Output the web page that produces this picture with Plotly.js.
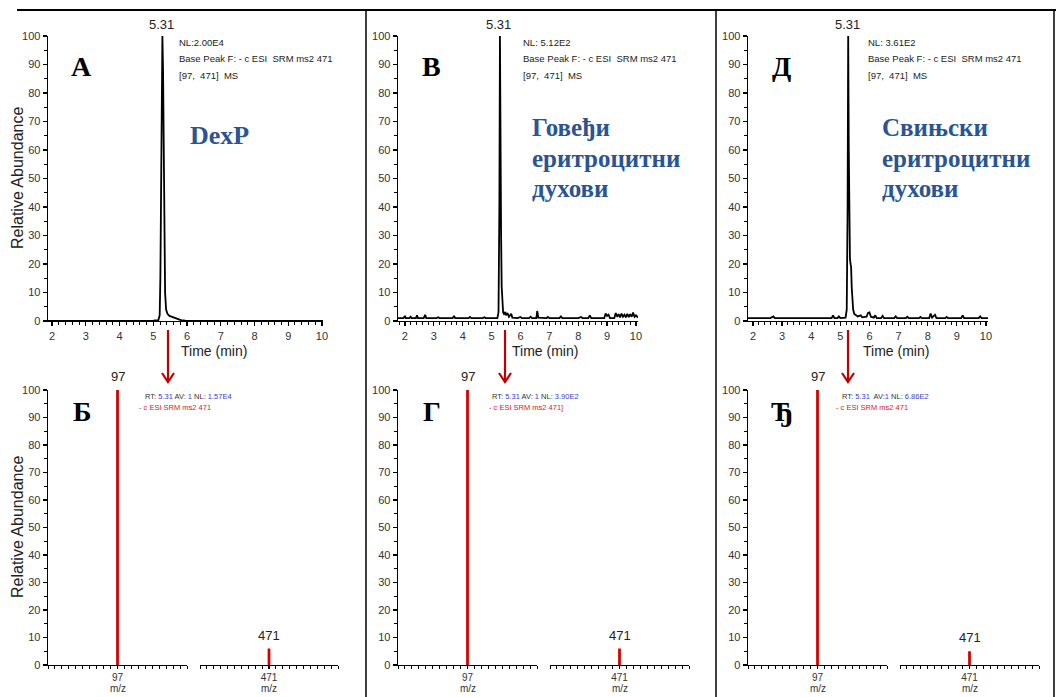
<!DOCTYPE html>
<html><head><meta charset="utf-8">
<script src="https://cdn.plot.ly/plotly-3.0.1.min.js"></script>
<style>html,body{margin:0;padding:0;background:#fff}#chart{width:1056px;height:697px}</style>
</head><body><div id="chart"></div>
<script>
// ---------- DATA ----------
// Chromatogram A (DexP)
const timeA = [1.88, 2.5, 3.5, 4.5, 5.0, 5.15, 5.19, 5.21, 5.23, 5.25, 5.27, 5.29, 5.31, 5.33, 5.35, 5.38, 5.42, 5.48, 5.56, 5.63, 5.72, 5.82, 5.95, 7.0, 8.0, 9.0, 10.03];
const absA  = [0, 0, 0, 0, 0.1, 0.3, 2, 15, 45, 85, 100, 88, 55, 25, 10, 4, 2.5, 1.8, 1.4, 1.0, 0.6, 0.3, 0.1, 0, 0, 0, 0];
// Chromatogram В (bovine erythrocyte ghosts)
const timeB = [1.76,1.95,2.0,2.03,2.15,2.2,2.23,2.38,2.42,2.45,2.65,2.7,2.74,3.1,3.15,3.2,3.65,3.7,3.74,4.2,4.25,4.3,4.7,4.75,4.8,5.2,5.24,5.27,5.29,5.31,5.33,5.35,5.38,5.4,5.43,5.47,5.5,5.55,5.6,5.68,5.72,5.9,6.0,6.05,6.3,6.35,6.4,6.55,6.58,6.62,6.9,6.95,7.0,7.35,7.4,7.45,8.0,8.1,8.15,8.35,8.4,8.45,8.9,8.95,9.0,9.05,9.1,9.25,9.3,9.35,9.4,9.45,9.5,9.55,9.6,9.65,9.7,9.75,9.8,9.85,9.9,9.95,10.0,10.07];
const absB  = [1.0,1.0,1.8,1.0,1.0,1.5,1.0,1.0,2.0,1.0,1.0,2.2,1.0,1.0,1.3,1.0,1.0,1.8,1.0,1.0,1.4,1.0,1.0,1.3,1.0,1.0,3,40,100,40,30,12,4,3,2.5,3.2,2,2.8,1.5,2.5,1.2,1.0,1.4,1.0,1.0,1.5,1.0,1.0,3.5,1.2,1.0,1.4,1.0,1.0,1.6,1.0,1.0,1.4,1.0,1.0,2.0,1.0,1.0,2.6,1.8,2.2,1.0,1.0,2.8,1.5,2.4,1.3,2.6,1.5,2.2,1.3,2.5,1.4,2.4,1.5,3.0,1.5,2.0,1.2];
// Chromatogram Д (porcine erythrocyte ghosts)
const timeD = [1.83,2.6,2.7,2.75,4.7,4.75,4.8,4.9,4.95,5.0,5.18,5.22,5.25,5.27,5.29,5.31,5.33,5.35,5.37,5.39,5.41,5.44,5.48,5.55,5.6,5.7,5.75,5.9,5.95,6.0,6.05,6.15,6.2,6.25,6.4,6.45,6.5,6.85,6.9,6.95,7.25,7.3,7.35,7.7,7.75,7.8,8.05,8.1,8.15,8.25,8.3,8.6,8.65,8.7,9.15,9.2,9.25,9.75,9.8,9.85,10.07];
const absD  = [1.0,1.0,1.6,1.0,1.0,2.0,1.0,1.0,1.6,1.0,1.2,4,40,100,60,28,22,20,19,12,8,4,2.5,2,1.6,2,1.3,1.5,2.8,3.0,1.5,1.2,2.0,1.0,1.0,1.8,1.0,1.0,1.6,1.0,1.0,1.5,1.0,1.0,1.4,1.0,1.0,2.6,1.2,2.2,1.0,1.0,1.4,1.0,1.0,2.0,1.0,1.0,1.6,1.0,1.0];
const peakLabel = "5.31";
// Mass spectra (m/z 97 and 471)
const mz = [97, 471];
const specB = [100, 6];     // Б
const specG = [100, 6];     // Г
const specDj = [100, 5];    // Ђ
const nlTop = ["NL:2.00E4", "NL: 5.12E2", "NL: 3.61E2"];
const nlSpec = ["1.57E4", "3.90E2", "6.86E2"];
const filterLine = ["- c ESI SRM ms2 471", "- c ESI SRM ms2 471]", "- c ESI SRM ms2 471"];
const avSpec = [" AV: ", " AV: ", "  AV:"];
const topLetters = ["А", "В", "Д"];
const botLetters = ["Б", "Г", "Ђ"];
const sampleNames = [["DexP"], ["Говеђи", "еритроцитни", "духови"], ["Свињски", "еритроцитни", "духови"]];

// ---------- LAYOUT HELPERS ----------
const W = 1056, H = 697;
const fx = x => x / W, fy = y => 1 - y / H;
const TF = {family: "Liberation Sans, Arial, sans-serif", size: 11, color: "#333"};
const topPanels = [
  {dom: [48, 323], range: [1.88, 10.03], t: timeA, a: absA, arrow: 168, info: 177, timeC: 214},
  {dom: [398, 638], range: [1.76, 10.07], t: timeB, a: absB, arrow: 505, info: 521, timeC: 545},
  {dom: [748, 988], range: [1.83, 10.07], t: timeD, a: absD, arrow: 848, info: 866, timeC: 896}
];
const botPanels = [
  {seg1: [48, 187], seg2: [200, 338], s: specB, info1: 143, info2: 137},
  {seg1: [398, 537], seg2: [550, 689], s: specG, info1: 490, info2: 487},
  {seg1: [748, 887], seg2: [900, 1039], s: specDj, info1: 840, info2: 834}
];
const topY = [36, 321], botY = [390, 665];

const layout = {
  width: W, height: H, margin: {l: 0, r: 0, t: 0, b: 0},
  paper_bgcolor: "#fff", plot_bgcolor: "rgba(0,0,0,0)",
  showlegend: false, annotations: [], shapes: [],
  font: {family: "Liberation Sans, Arial, sans-serif", color: "#333"}
};
const data = [];
const axBase = {showgrid: false, zeroline: false, showline: true, linecolor: "#000", linewidth: 1.4,
  ticks: "outside", tickcolor: "#000", tickwidth: 1.2, tickfont: TF, fixedrange: true};

function yAx(domPy, anchor, visible) {
  return Object.assign({}, axBase, {domain: [fy(domPy[1]), fy(domPy[0])], range: [0, 100], anchor: anchor,
    tickmode: "linear", tick0: 0, dtick: 10, ticklen: 4,
    minor: {tickmode: "linear", tick0: 0, dtick: 5, ticks: "outside", ticklen: 3, tickcolor: "#000", tickwidth: 1},
    visible: visible});
}

let n = 1;
topPanels.forEach((p, i) => {
  const k = n++;
  const xs = k === 1 ? "x" : "x" + k, ys = k === 1 ? "y" : "y" + k;
  layout["xaxis" + (k === 1 ? "" : k)] = Object.assign({}, axBase, {domain: [fx(p.dom[0]), fx(p.dom[1])],
    range: p.range, anchor: ys, tickmode: "linear", tick0: 0, dtick: 1, ticklen: 4,
    minor: {tickmode: "linear", tick0: 0, dtick: 0.2, ticks: "outside", ticklen: 3, tickcolor: "#000", tickwidth: 1}});
  layout["yaxis" + (k === 1 ? "" : k)] = yAx(topY, xs, true);
  data.push({type: "scatter", mode: "lines", x: p.t, y: p.a, xaxis: xs, yaxis: ys,
    line: {color: "#000", width: 1.8}, hoverinfo: "skip"});
  // peak label
  const im = p.a.indexOf(Math.max(...p.a));
  layout.annotations.push({xref: xs, yref: ys, x: p.t[im], y: 100, text: peakLabel, showarrow: false,
    yanchor: "bottom", yshift: 2, xshift: -1, font: {size: 13, color: "#222"}});
  // info text
  const infoLines = [nlTop[i], "Base Peak F: - c ESI  SRM ms2 471", "[97,  471]  MS"];
  [42, 58, 75].forEach((yy, j) => layout.annotations.push({xref: "paper", yref: "paper", x: fx(p.info), y: fy(yy),
    xanchor: "left", yanchor: "middle", text: infoLines[j], showarrow: false, font: {size: 9.5, color: "#222"}}));
  // big letter
  layout.annotations.push({xref: "paper", yref: "paper", x: fx(p.dom[0] + 33), y: fy(66), text: "<b>" + topLetters[i] + "</b>",
    showarrow: false, xanchor: "center", yanchor: "middle", font: {family: "Liberation Serif, serif", size: 28, color: "#000"}});
  // sample name
  const names = sampleNames[i];
  if (names.length === 1) {
    layout.annotations.push({xref: "paper", yref: "paper", x: fx(219), y: fy(136), text: "<b>" + names[0] + "</b>",
      showarrow: false, xanchor: "center", yanchor: "middle", font: {family: "Liberation Serif, serif", size: 26, color: "#2b5592"}});
  } else {
    names.forEach((nm, j) => layout.annotations.push({xref: "paper", yref: "paper", x: fx(p.dom[0] + 132), y: fy(128 + 30 * j),
      text: "<b>" + nm + "</b>", showarrow: false, xanchor: "left", yanchor: "middle",
      font: {family: "Liberation Serif, serif", size: 25, color: "#2b5592"}}));
  }
  // Time (min)
  layout.annotations.push({xref: "paper", yref: "paper", x: fx(p.timeC), y: fy(351), text: "Time (min)", showarrow: false,
    xanchor: "center", yanchor: "middle", font: {size: 14, color: "#222"}});
  // red arrow
  const ax = p.arrow;
  layout.shapes.push({type: "line", xref: "paper", yref: "paper", x0: fx(ax), x1: fx(ax), y0: fy(330), y1: fy(381),
    line: {color: "#c00000", width: 2.2}});
  layout.shapes.push({type: "path", xref: "paper", yref: "paper",
    path: `M ${fx(ax - 6)} ${fy(373)} L ${fx(ax)} ${fy(382)} L ${fx(ax + 6)} ${fy(373)}`,
    line: {color: "#c00000", width: 2.2}});
});

botPanels.forEach((p, i) => {
  [p.seg1, p.seg2].forEach((seg, j) => {
    const k = n++;
    const xs = "x" + k, ys = "y" + k;
    const c = mz[j];
    layout["xaxis" + k] = Object.assign({}, axBase, {domain: [fx(seg[0]), fx(seg[1])], range: [c - 5, c + 5], anchor: ys,
      tickmode: "array", tickvals: [c], ticktext: [String(c)], ticklen: 3,
      tickfont: {family: "Liberation Sans, Arial, sans-serif", size: 10, color: "#333"},
      minor: {tickmode: "linear", tick0: 0, dtick: 0.5, ticks: "outside", ticklen: 2.5, tickcolor: "#000", tickwidth: 1}});
    layout["yaxis" + k] = yAx(botY, xs, j === 0);
    data.push({type: "bar", x: [c], y: [p.s[j]], width: [0.2], xaxis: xs, yaxis: ys,
      marker: {color: "#d40000", line: {width: 0}}, hoverinfo: "skip"});
    layout.annotations.push({xref: xs, yref: ys, x: c, y: p.s[j], text: String(c), showarrow: false,
      yanchor: "bottom", yshift: 4, font: {size: 13, color: "#222"}});
    layout.annotations.push({xref: xs, yref: "paper", x: c, y: fy(688), text: "m/z", showarrow: false,
      yanchor: "middle", font: {size: 10, color: "#333"}});
  });
  const B = '<span style="color:#3c3cc8">';
  layout.annotations.push({xref: "paper", yref: "paper", x: fx(p.info1), y: fy(396), xanchor: "left", yanchor: "middle",
    text: "RT: " + B + "5.31</span>" + avSpec[i] + B + "1</span> NL: " + B + nlSpec[i] + "</span>",
    showarrow: false, font: {size: 7.5, color: "#333"}});
  layout.annotations.push({xref: "paper", yref: "paper", x: fx(p.info2), y: fy(407), xanchor: "left", yanchor: "middle",
    text: filterLine[i], showarrow: false, font: {size: 7.5, color: "#e02020"}});
  layout.annotations.push({xref: "paper", yref: "paper", x: fx(p.seg1[0] + 34), y: fy(411), text: "<b>" + botLetters[i] + "</b>",
    showarrow: false, xanchor: "center", yanchor: "middle", font: {family: "Liberation Serif, serif", size: 28, color: "#000"}});
});

// y-axis titles
[178, 527].forEach(yy => layout.annotations.push({xref: "paper", yref: "paper", x: fx(17), y: fy(yy), text: "Relative Abundance",
  textangle: -90, showarrow: false, xanchor: "center", yanchor: "middle", font: {size: 16, color: "#222"}}));

// frame lines
layout.shapes.push({type: "line", xref: "paper", yref: "paper", x0: fx(17), x1: 1, y0: fy(10), y1: fy(10), line: {color: "#000", width: 2}});
[366, 716, 1054].forEach(xx => layout.shapes.push({type: "line", xref: "paper", yref: "paper", x0: fx(xx), x1: fx(xx), y0: fy(10), y1: 0,
  line: {color: "#000", width: 1.5}}));

Plotly.newPlot("chart", data, layout, {staticPlot: true, displayModeBar: false});
</script></body></html>
